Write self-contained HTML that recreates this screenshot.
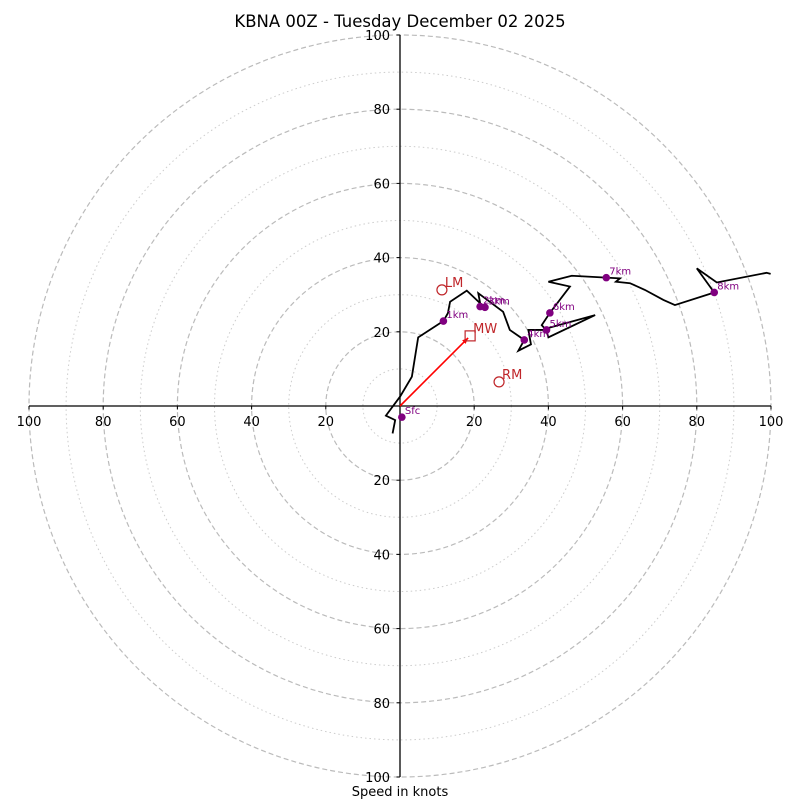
<!DOCTYPE html>
<html><head><meta charset="utf-8"><style>
body{margin:0;background:#fff}
svg{display:block;font-family:"DejaVu Sans","Liberation Sans",sans-serif}
</style></head><body>
<svg id="chart" width="800" height="800" viewBox="0 0 800 800">
<rect width="800" height="800" fill="#fff"/>
<text x="400" y="27" text-anchor="middle" font-size="16.5">KBNA 00Z - Tuesday December 02 2025</text>
<text x="400" y="796" text-anchor="middle" font-size="13">Speed in knots</text>
<g id="rings"></g><g id="axes"></g><g id="marks"></g>
</svg>
<script>
const ringMajor=[20,40,60,80,100];
const ringMinor=[10,30,50,70,90];
const tickLabels=[100,80,60,40,20,20,40,60,80,100];
const tickValues=[-100,-80,-60,-40,-20,20,40,60,80,100];
const pathU=[-2.0,-1.3,-3.8,0,3.2,4.9,11.7,12.9,13.5,18.0,21.6,21.1,27.8,29.6,33.5,31.9,35.3,34.6,39.4,40.0,52.6,39.1,38.2,40.4,45.8,40.0,46.3,59.3,58.2,62.0,66.0,71.0,74.1,84.7,80.0,85.4,98.8,99.9];
const pathV=[-7.4,-3.8,-2.6,2.5,7.9,18.5,22.9,25.0,28.1,31.1,27.7,30.4,25.4,20.5,17.8,14.9,16.6,20.5,20.5,18.5,24.5,20.8,21.8,25.1,32.2,33.5,35.1,34.4,33.5,33.1,31.3,28.6,27.2,30.6,37.1,33.3,35.9,35.6];
const levelNames=["Sfc","1km","2km","3km","4km","5km","6km","7km","8km"];
const levelU=[0.5,11.7,21.6,22.9,33.5,39.5,40.4,55.6,84.7];
const levelV=[-3.0,22.9,26.8,26.6,17.8,20.5,25.1,34.6,30.6];
const motionNames=["LM","MW","RM"];
const motionU=[11.3,18.9,26.7];
const motionV=[31.3,18.9,6.5];
const cx=400,cy=406,k=3.71;
const X=u=>cx+u*k, Y=v=>cy-v*k;
const NS="http://www.w3.org/2000/svg";
function mk(tag,attrs,parent,txt){const e=document.createElementNS(NS,tag);for(const a in attrs)e.setAttribute(a,attrs[a]);if(txt!==undefined)e.textContent=txt;parent.appendChild(e);return e;}
const rings=document.getElementById('rings'),axes=document.getElementById('axes'),marks=document.getElementById('marks');
ringMinor.forEach(r=>{const c=mk('circle',{cx:cx,cy:cy,r:r*k,fill:'none',stroke:'#ccc','stroke-width':1,'stroke-dasharray':'1.5,3'},rings);

});
ringMajor.forEach(r=>{const c=mk('circle',{cx:cx,cy:cy,r:r*k,fill:'none',stroke:'#bbb','stroke-width':1.2,'stroke-dasharray':'5,3'},rings);

});
const ax=mk('line',{x1:X(-100),y1:cy,x2:X(100),y2:cy,stroke:'#000','stroke-width':1.3},axes);


const ay=mk('line',{x1:cx,y1:Y(100),x2:cx,y2:Y(-100),stroke:'#000','stroke-width':1.3},axes);


tickValues.forEach((t,i)=>{
 mk('line',{x1:X(t),y1:cy,x2:X(t),y2:cy+3.5,stroke:'#000'},axes);
 const a=mk('text',{x:X(t),y:cy+20,'text-anchor':'middle','font-size':13},axes,tickLabels[i]);
 
 
 mk('line',{x1:cx-3.5,y1:Y(t),x2:cx,y2:Y(t),stroke:'#000'},axes);
 const b=mk('text',{x:cx-10,y:Y(t)+5,'text-anchor':'end','font-size':13},axes,Math.abs(t));
 
 
});
const pts=pathU.map((u,i)=>X(u)+','+Y(pathV[i])).join(' ');
const pl=mk('polyline',{points:pts,fill:'none',stroke:'#000','stroke-width':1.8,'stroke-linejoin':'miter'},marks);


const mwx=X(motionU[1]),mwy=Y(motionV[1]);
const ar=mk('line',{x1:cx,y1:cy,x2:mwx-2,y2:mwy+2,stroke:'red','stroke-width':1.6},marks);


const ang=Math.atan2(mwy-cy,mwx-cx),hx=mwx-2,hy=mwy+2;
mk('polygon',{points:[hx,hy,hx-6*Math.cos(ang)+2.5*Math.sin(ang),hy-6*Math.sin(ang)-2.5*Math.cos(ang),hx-6*Math.cos(ang)-2.5*Math.sin(ang),hy-6*Math.sin(ang)+2.5*Math.cos(ang)].join(','),fill:'red'},marks);
levelNames.forEach((n,i)=>{
 const d=mk('circle',{cx:X(levelU[i]),cy:Y(levelV[i]),r:3.8,fill:'purple'},marks);
 
 
 const t=mk('text',{x:X(levelU[i])+3,y:Y(levelV[i])-3,'font-size':10,fill:'purple'},marks,n);
 
 
});
motionNames.forEach((n,i)=>{
 const x=X(motionU[i]),y=Y(motionV[i]);
 let m;
 if(n==='MW') m=mk('rect',{x:x-5,y:y-5,width:10,height:10,fill:'none',stroke:'#c0262a','stroke-width':1.2},marks);
 else m=mk('circle',{cx:x,cy:y,r:5,fill:'none',stroke:'#c0262a','stroke-width':1.2},marks);
 
 
 const t=mk('text',{x:x+3,y:y-3,'font-size':13,fill:'#c0262a'},marks,n);
 
 
});
</script>
</body></html>
